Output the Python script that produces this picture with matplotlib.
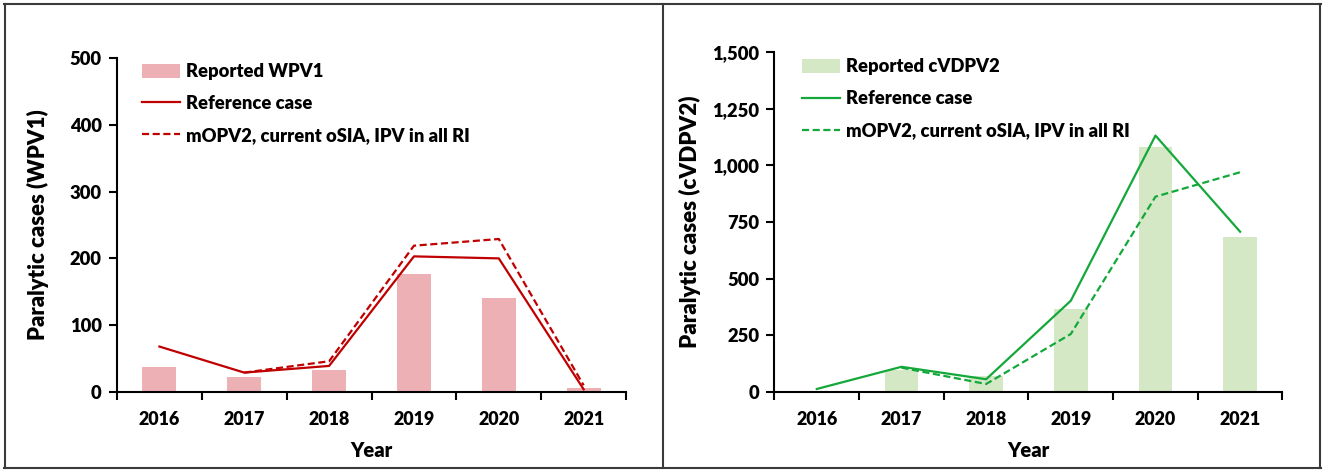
import matplotlib
matplotlib.use("Agg")
import matplotlib.pyplot as plt
import numpy as np
from matplotlib.patches import Patch
from matplotlib.lines import Line2D
from matplotlib.ticker import FuncFormatter, FixedLocator

plt.rcParams['font.family'] = ['Lato', 'DejaVu Sans']
plt.rcParams['font.weight'] = 'heavy'
FW = 'heavy'

years = ["2016", "2017", "2018", "2019", "2020", "2021"]

wpv1_reported = [37, 22, 33, 176, 140, 6]
wpv1_reference = [68, 29, 39, 203, 200, 4]
wpv1_mopv2 = [np.nan, 29, 46, 219, 229, 10]

cvdpv2_reported = [2, 96, 71, 366, 1081, 682]
cvdpv2_reference = [12, 110, 55, 402, 1132, 707]
cvdpv2_mopv2 = [np.nan, 106, 34, 255, 862, 970]

legend_labels_left = ["Reported WPV1", "Reference case", "mOPV2, current oSIA, IPV in all RI"]
legend_labels_right = ["Reported cVDPV2", "Reference case", "mOPV2, current oSIA, IPV in all RI"]

fig = plt.figure(figsize=(13.25, 4.73), dpi=100)

RED = "#C00000"
PINK = "#EDB0B4"
GREEN = "#14A83A"
LGREEN = "#D4E8C6"
dash = (3.2, 1.6)


def panel(rect, reported, reference, mopv2, ymax, ystep, ylabel, bar_color, line_color,
          labels, leg_anchor, comma=False, ylabelpad=8, ylabelsize=16.5):
    ax = fig.add_axes(rect)
    x = np.arange(len(years))
    ax.bar(x, reported, width=0.4, color=bar_color, zorder=1)
    ax.plot(x, reference, color=line_color, lw=1.6, zorder=3)
    ax.plot(x, mopv2, color=line_color, lw=1.6, dashes=dash, zorder=2)
    ax.set_xlim(-0.5, len(years) - 0.5)
    ax.set_ylim(0, ymax)
    ax.set_yticks(np.arange(0, ymax + 1, ystep))
    if comma:
        ax.yaxis.set_major_formatter(FuncFormatter(lambda v, p: f"{int(v):,}"))
    ax.xaxis.set_major_locator(FixedLocator(np.arange(-0.5, len(years), 1.0)))
    ax.xaxis.set_minor_locator(FixedLocator(x))
    ax.set_xticklabels([], minor=False)
    ax.set_xticklabels(years, minor=True)
    ax.tick_params(axis='x', which='major', length=6, width=1.5, direction='out', color='black')
    ax.tick_params(axis='x', which='minor', length=0, pad=14, labelsize=12.9)
    ax.tick_params(axis='y', length=6, width=1.5, direction='out', labelsize=13.2, pad=5)
    for s in ['top', 'right']:
        ax.spines[s].set_visible(False)
    for s in ['left', 'bottom']:
        ax.spines[s].set_linewidth(1.5)
        ax.spines[s].set_color('black')
    ax.set_xlabel("Year", fontsize=14.5, fontweight=FW, labelpad=9)
    ax.set_ylabel(ylabel, fontsize=ylabelsize, fontweight=FW, labelpad=ylabelpad)
    handles = [Patch(facecolor=bar_color, edgecolor='none'),
               Line2D([], [], color=line_color, lw=1.6),
               Line2D([], [], color=line_color, lw=1.6, dashes=dash)]
    ax.legend(handles, labels, loc='upper left', bbox_to_anchor=leg_anchor,
              frameon=False, borderpad=0, borderaxespad=0, handlelength=2.1,
              handleheight=0.8, handletextpad=0.3, labelspacing=0.82,
              prop={'size': 13.2, 'weight': FW})
    return ax


panel([0.0883, 0.1713, 0.3842, 0.7061], wpv1_reported, wpv1_reference, wpv1_mopv2,
      500, 100, "Paralytic cases (WPV1)", PINK, RED, legend_labels_left, (0.049, 0.985),
      ylabelpad=15, ylabelsize=15.9)
panel([0.5845, 0.1719, 0.3834, 0.7175], cvdpv2_reported, cvdpv2_reference, cvdpv2_mopv2,
      1500, 250, "Paralytic cases (cVDPV2)", LGREEN, GREEN, legend_labels_right, (0.054, 0.982),
      comma=True, ylabelpad=8, ylabelsize=16.0)

# border lines
W, H = 1325, 473
bc = "#3A3A3A"
def fl(x0, y0, x1, y1):
    fig.add_artist(Line2D([x0 / W, x1 / W], [1 - y0 / H, 1 - y1 / H], color=bc, lw=1.5,
                          transform=fig.transFigure))
fl(4, 4.5, 1320.5, 4.5)
fl(4, 467.5, 1320.5, 467.5)
fl(4.5, 4, 4.5, 468)
fl(1320, 4, 1320, 468)
fl(662.5, 4, 662.5, 468)

fig.savefig("out.png", dpi=100)
